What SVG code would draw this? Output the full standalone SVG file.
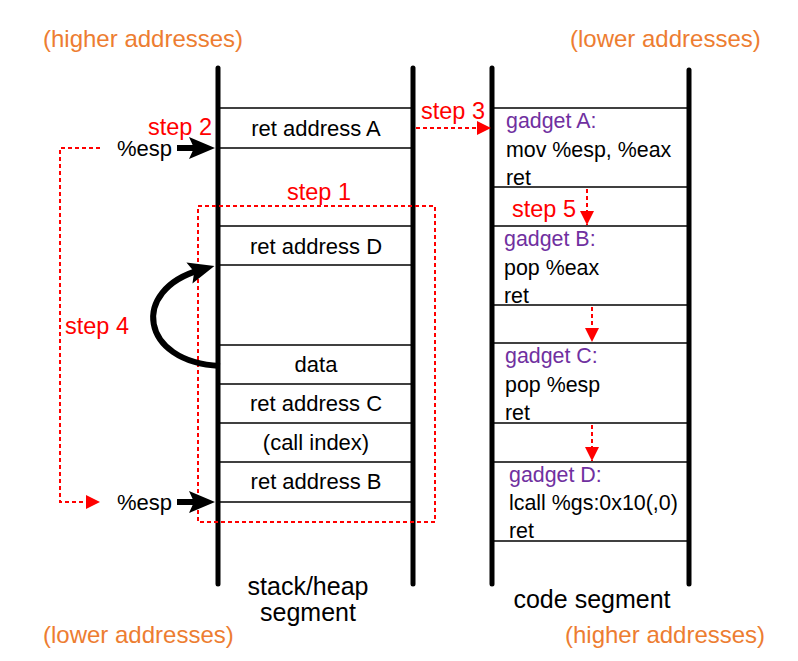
<svg xmlns="http://www.w3.org/2000/svg" width="798" height="661" viewBox="0 0 798 661">
<defs>
<style>
text{font-family:"Liberation Sans",Arial,sans-serif;font-size:22px;fill:#000}
.c{text-anchor:middle}
.o{fill:#ED7D31;font-size:24px}
.r{fill:#FF0000;font-size:23.5px}
.p{fill:#7030A0}
.code{font-size:21.4px}
.seg{font-size:25px}
.pole{stroke:#000;stroke-width:5;stroke-linecap:round}
.slot{stroke:#000;stroke-width:1.5}
.dash{stroke:#FF0000;stroke-width:2;stroke-dasharray:4 3;fill:none}
.big{stroke:#000;stroke-width:6;fill:none}
</style>
<marker id="ra" viewBox="0 0 10 10" refX="10" refY="5" markerWidth="14" markerHeight="14" markerUnits="userSpaceOnUse" orient="auto"><path d="M0,0L10,5L0,10z" fill="#FF0000"/></marker>
<marker id="ba" viewBox="0 0 26 22" refX="11" refY="11" markerWidth="26" markerHeight="22" markerUnits="userSpaceOnUse" orient="auto"><path d="M0,0L26,11L0,22L5,11z" fill="#000"/></marker>
</defs>
<rect width="798" height="661" fill="#fff"/>
<g id="labels">
<text class="o" x="43" y="47">(higher addresses)</text>
<text class="o" x="570" y="47">(lower addresses)</text>
<text class="o" x="43" y="643">(lower addresses)</text>
<text class="o" x="565" y="643">(higher addresses)</text>
<text class="c seg" x="308" y="595">stack/heap</text>
<text class="c seg" x="308" y="621">segment</text>
<text class="c seg" x="592" y="608">code segment</text>
</g>
<g id="stack">
<line class="pole" x1="218" y1="68" x2="218" y2="584"/>
<line class="pole" x1="413" y1="68" x2="413" y2="584"/>
<line class="slot" x1="218" y1="108" x2="413" y2="108"/>
<line class="slot" x1="218" y1="148" x2="413" y2="148"/>
<line class="slot" x1="218" y1="226" x2="413" y2="226"/>
<line class="slot" x1="218" y1="265" x2="413" y2="265"/>
<line class="slot" x1="218" y1="345" x2="413" y2="345"/>
<line class="slot" x1="218" y1="384" x2="413" y2="384"/>
<line class="slot" x1="218" y1="423" x2="413" y2="423"/>
<line class="slot" x1="218" y1="462" x2="413" y2="462"/>
<line class="slot" x1="218" y1="502" x2="413" y2="502"/>
</g>
<g id="slot-A"><text class="c" x="316" y="136">ret address A</text></g>
<g id="slot-D"><text class="c" x="316" y="254">ret address D</text></g>
<g id="slot-data"><text class="c" x="316" y="372">data</text></g>
<g id="slot-C"><text class="c" x="316" y="411">ret address C</text></g>
<g id="slot-index"><text class="c" x="316" y="450">(call index)</text></g>
<g id="slot-B"><text class="c" x="316" y="489">ret address B</text></g>
<g id="code">
<line class="pole" x1="492" y1="68" x2="492" y2="584"/>
<line class="pole" x1="689" y1="70" x2="689" y2="584"/>
<line class="slot" x1="492" y1="108" x2="689" y2="108"/>
<line class="slot" x1="492" y1="187" x2="689" y2="187"/>
<line class="slot" x1="492" y1="226" x2="689" y2="226"/>
<line class="slot" x1="492" y1="305" x2="689" y2="305"/>
<line class="slot" x1="492" y1="343" x2="689" y2="343"/>
<line class="slot" x1="492" y1="423" x2="689" y2="423"/>
<line class="slot" x1="492" y1="462" x2="689" y2="462"/>
<line class="slot" x1="492" y1="541" x2="689" y2="541"/>
</g>
<g id="gadget-A"><text class="p code" x="506" y="128">gadget A:</text><text class="code" x="506" y="157">mov %esp, %eax</text><text class="code" x="506" y="185">ret</text></g>
<g id="gadget-B"><text class="p code" x="504" y="246">gadget B:</text><text class="code" x="504" y="275">pop %eax</text><text class="code" x="504" y="303">ret</text></g>
<g id="gadget-C"><text class="p code" x="505" y="363">gadget C:</text><text class="code" x="505" y="392">pop %esp</text><text class="code" x="505" y="420">ret</text></g>
<g id="gadget-D"><text class="p code" x="509" y="482">gadget D:</text><text class="code" x="509" y="510">lcall %gs:0x10(,0)</text><text class="code" x="509" y="538">ret</text></g>
<g id="esp-top"><text x="117" y="156">%esp</text></g>
<g id="esp-bottom"><text x="117" y="510">%esp</text></g>
<g id="step1"><rect class="dash" x="198" y="206" width="237" height="316"/><text class="r" x="287" y="200">step 1</text></g>
<g id="connectors">
<line class="big" x1="177" y1="148" x2="200" y2="148" marker-end="url(#ba)"/>
<line class="big" x1="177" y1="502" x2="200" y2="502" marker-end="url(#ba)"/>
<path class="big" d="M220,366 C140,362 130,290 200,270" marker-end="url(#ba)"/>
<path class="dash" d="M100,148 H60 V502 H100" marker-end="url(#ra)"/>
<line class="dash" x1="416" y1="128" x2="491" y2="128" marker-end="url(#ra)"/>
<line class="dash" x1="587" y1="189" x2="587" y2="225" marker-end="url(#ra)"/>
<line class="dash" x1="592" y1="307" x2="592" y2="342" marker-end="url(#ra)"/>
<line class="dash" x1="592" y1="425" x2="592" y2="461" marker-end="url(#ra)"/>
<text class="r" x="148" y="135">step 2</text>
<text class="r" x="421" y="119">step 3</text>
<text class="r" x="65" y="334">step 4</text>
<text class="r" x="512" y="217">step 5</text>
</g>
</svg>
